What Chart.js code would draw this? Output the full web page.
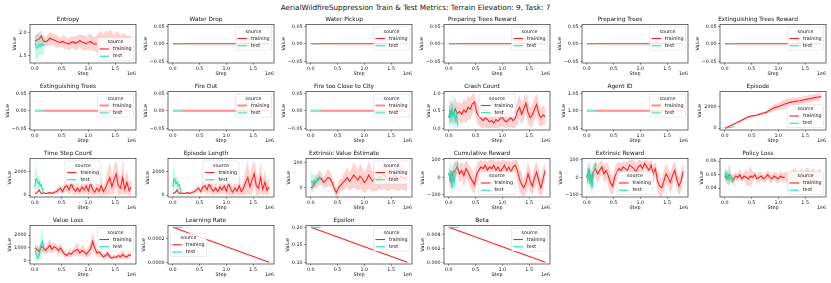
<!DOCTYPE html>
<html>
<head>
<meta charset="utf-8">
<script src="https://cdn.jsdelivr.net/npm/chart.js@4.4.1/dist/chart.umd.min.js"></script>
<style>
  html, body { margin: 0; padding: 0; background: #fff; }
  #fig { position: relative; width: 831px; height: 283px; overflow: hidden; }
  #suptitle { position: absolute; left: 0; top: 3px; width: 831px; text-align: center;
              font: 7.25px "DejaVu Sans"; line-height: 9px; color: #111; }
  .cell { position: absolute; width: 144px; height: 65px; }
</style>
</head>
<body>
<div id="fig">
  <div id="suptitle">AerialWildfireSuppression Train &amp; Test Metrics: Terrain Elevation: 9, Task: 7</div>
</div>
<script>
// ---- sample positions (env steps) ----
const trainSteps = [0, 40e3, 80e3, 120e3, 160e3, 200e3, 240e3, 280e3, 320e3, 360e3,
  400e3, 440e3, 480e3, 520e3, 560e3, 600e3, 640e3, 680e3, 720e3, 760e3,
  800e3, 840e3, 880e3, 920e3, 960e3, 1000e3, 1040e3, 1080e3, 1120e3, 1160e3,
  1200e3, 1240e3, 1280e3, 1320e3, 1360e3, 1400e3, 1440e3, 1480e3, 1520e3, 1560e3,
  1600e3, 1640e3, 1680e3, 1720e3, 1760e3, 1800e3];
const testSteps = [0, 20e3, 40e3, 60e3, 80e3, 100e3, 120e3, 140e3, 160e3, 180e3];
const runSteps = [0, 1800e3];
const testRunSteps = [0, 180e3];

const stepTicks = [0, 0.5e6, 1.0e6, 1.5e6];
const stepTickLabels = ['0.0', '0.5', '1.0', '1.5'];

// ---- metrics ----
const entropyTrain = [1.82, 1.84, 1.86, 1.93, 1.82, 1.80, 1.83, 1.88, 1.86, 1.84,
  1.82, 1.80, 1.79, 1.81, 1.78, 1.77, 1.75, 1.79, 1.80, 1.77,
  1.79, 1.83, 1.80, 1.78, 1.76, 1.79, 1.81, 1.77, 1.75, 1.76,
  1.78, 1.80, 1.75, 1.77, 1.79, 1.76, 1.78, 1.74, 1.77, 1.80,
  1.76, 1.74, 1.78, 1.75, 1.72, 1.74];
const entropyTrainSpread = [0.10, 0.12, 0.15, 0.12, 0.10, 0.10, 0.12, 0.15, 0.13, 0.12,
  0.14, 0.12, 0.10, 0.13, 0.15, 0.12, 0.14, 0.13, 0.12, 0.15,
  0.16, 0.14, 0.15, 0.17, 0.14, 0.16, 0.18, 0.15, 0.14, 0.20,
  0.22, 0.25, 0.20, 0.28, 0.22, 0.30, 0.24, 0.20, 0.26, 0.22,
  0.18, 0.24, 0.20, 0.18, 0.22, 0.20];
const entropyLineEnd = 1.16e6;
const entropyTest = [1.78, 1.72, 1.66, 1.70, 1.74, 1.70, 1.76, 1.72, 1.75, 1.73];
const entropyTestSpread = [0.25, 0.28, 0.30, 0.25, 0.22, 0.20, 0.22, 0.20, 0.18, 0.20];

const zeroTrain = [0, 0];
const zeroTest = [0, 0];
const agentIdTrain = [1, 1];
const agentIdTest = [1, 1];

const crashTrain = [0.30, 0.50, 0.38, 0.55, 0.42, 0.48, 0.40, 0.52, 0.45, 0.60,
  0.55, 0.70, 0.75, 0.45, 0.35, 0.28, 0.22, 0.30, 0.25, 0.18,
  0.22, 0.15, 0.25, 0.20, 0.28, 0.32, 0.22, 0.18, 0.25, 0.30,
  0.22, 0.28, 0.48, 0.60, 0.40, 0.55, 0.72, 0.45, 0.30, 0.38,
  0.55, 0.68, 0.42, 0.30, 0.38, 0.33];
const crashTrainSpread = [0.25, 0.30, 0.28, 0.32, 0.30, 0.28, 0.30, 0.32, 0.30, 0.35,
  0.30, 0.30, 0.25, 0.30, 0.28, 0.25, 0.22, 0.28, 0.25, 0.20,
  0.22, 0.18, 0.25, 0.22, 0.25, 0.28, 0.22, 0.20, 0.22, 0.28,
  0.25, 0.28, 0.35, 0.35, 0.30, 0.32, 0.28, 0.32, 0.28, 0.30,
  0.32, 0.30, 0.32, 0.25, 0.28, 0.25];
const crashTest = [0.30, 0.52, 0.28, 0.58, 0.35, 0.45, 0.22, 0.40, 0.15, 0.08];
const crashTestSpread = [0.30, 0.40, 0.30, 0.40, 0.35, 0.40, 0.30, 0.35, 0.20, 0.10];

const episodeTrain = [0, 90, 180, 270, 360, 450, 540, 640, 740, 840,
  940, 1030, 1080, 1120, 1160, 1200, 1260, 1320, 1380, 1420,
  1520, 1640, 1760, 1860, 1920, 1980, 2050, 2120, 2200, 2280,
  2330, 2380, 2420, 2450, 2480, 2510, 2550, 2590, 2630, 2670,
  2710, 2750, 2790, 2820, 2850, 2880];
const episodeTrainSpread = [0, 10, 20, 30, 40, 50, 50, 60, 60, 70,
  70, 80, 80, 80, 90, 90, 100, 100, 110, 120,
  150, 200, 250, 300, 330, 350, 380, 400, 420, 420,
  400, 380, 370, 360, 350, 340, 330, 330, 330, 330,
  330, 330, 330, 330, 330, 330];
const episodeTest = [0, 15, 30, 50, 65, 80, 95, 110, 130, 150];
const episodeTestSpread = [0, 5, 5, 8, 8, 10, 10, 12, 12, 15];

const timeStepTrain = [150, 200, 450, 150, 200, 150, 180, 220, 150, 250,
  300, 450, 600, 300, 700, 800, 450, 1000, 550, 350,
  600, 300, 700, 450, 800, 350, 1000, 500, 250, 600,
  350, 800, 300, 600, 1100, 1500, 700, 1300, 1800, 800,
  600, 1500, 500, 1100, 400, 700];
const timeStepTrainSpread = [50, 80, 150, 60, 80, 60, 60, 80, 70, 100,
  200, 250, 300, 250, 450, 500, 400, 700, 500, 400,
  450, 350, 500, 450, 600, 400, 900, 600, 350, 500,
  500, 800, 400, 600, 1100, 1300, 900, 1200, 1100, 1000,
  900, 1300, 800, 1000, 700, 700];
const timeStepTest = [700, 1400, 1300, 1000, 1100, 800, 900, 500, 200, 150];
const timeStepTestSpread = [500, 1500, 600, 500, 600, 400, 400, 300, 150, 80];

// episode length reads the same as time step count in the picture
const episodeLengthTrain = timeStepTrain;
const episodeLengthTrainSpread = timeStepTrainSpread;
const episodeLengthTest = timeStepTest;
const episodeLengthTestSpread = timeStepTestSpread;

const extValueTrain = [0, 5, 20, 30, 40, 35, 20, 30, 40, 35,
  20, -5, -20, 0, 10, 20, 30, 40, 25, 35,
  50, 40, 30, 45, 35, 20, 30, 50, 35, 25,
  40, 30, 45, 35, 55, 40, 30, 45, 35, 50,
  40, 30, 45, 35, 40, 30];
const extValueTrainSpread = [10, 15, 20, 25, 30, 25, 20, 30, 35, 30,
  25, 20, 20, 25, 25, 30, 35, 40, 35, 40,
  50, 45, 40, 50, 45, 40, 45, 55, 45, 40,
  50, 45, 50, 45, 55, 50, 45, 50, 45, 55,
  50, 45, 50, 45, 50, 45];
const extValueTest = [20, 25, 15, 30, 25, 20, 35, 30, 40, 30];
const extValueTestSpread = [20, 50, 30, 25, 30, 25, 20, 20, 15, 15];

const cumRewardTrain = [20, -20, 30, 40, 60, 20, 40, 10, 50, 30,
  0, -20, -40, 20, 40, 60, 50, 70, 40, 60,
  50, 70, 40, 60, 30, 50, 70, 40, 60, 30,
  60, 70, 40, -10, -40, -60, -30, 20, -20, -50,
  0, 30, -20, -60, -10, 40];
const cumRewardTrainSpread = [40, 50, 50, 50, 40, 50, 50, 60, 50, 50,
  60, 60, 50, 60, 50, 40, 40, 30, 50, 40,
  50, 30, 50, 40, 60, 50, 30, 50, 40, 60,
  40, 30, 60, 70, 60, 50, 60, 70, 60, 50,
  70, 60, 70, 50, 70, 50];
const cumRewardTest = [30, -10, 40, -60, 10, -30, 40, 50, 70, 80];
const cumRewardTestSpread = [40, 60, 60, 60, 70, 60, 50, 40, 30, 20];

const extRewardTrain = [0, 40, -20, 30, 50, 20, 40, 60, 20, 40,
  10, -30, -50, 0, 30, 50, 40, 60, 50, 40,
  70, 60, 50, 30, 60, 70, 50, 80, 60, 40,
  70, 20, 50, -20, -50, -60, -20, 20, 0, -30,
  10, 40, -10, -50, -20, 35];
const extRewardTrainSpread = [40, 50, 50, 50, 40, 50, 50, 40, 50, 50,
  60, 60, 50, 60, 50, 40, 40, 30, 40, 50,
  30, 40, 50, 50, 40, 30, 40, 20, 40, 50,
  30, 50, 40, 60, 60, 50, 60, 60, 50, 60,
  60, 50, 60, 50, 60, 50];
const extRewardTest = [20, -20, 50, -40, 20, -60, 30, 40, 70, 80];
const extRewardTestSpread = [40, 60, 50, 60, 70, 50, 50, 40, 30, 20];

const policyLossTrain = [0.049, 0.047, 0.050, 0.048, 0.046, 0.049, 0.048, 0.050, 0.047, 0.049,
  0.048, 0.047, 0.049, 0.048, 0.050, 0.047, 0.048, 0.049, 0.047, 0.048,
  0.050, 0.048, 0.047, 0.049, 0.048, 0.047, 0.049, 0.048, 0.048, 0.048,
  0.047, 0.049, 0.048, 0.050, 0.047, 0.048, 0.049, 0.047, 0.050, 0.048,
  0.047, 0.049, 0.048, 0.047, 0.048, 0.049];
const policyLossTrainSpread = [0.003, 0.004, 0.008, 0.003, 0.004, 0.003, 0.003, 0.004, 0.003, 0.003,
  0.006, 0.005, 0.008, 0.004, 0.003, 0.003, 0.004, 0.003, 0.003, 0.004,
  0.003, 0.004, 0.003, 0.003, 0.004, 0.003, 0.004, 0.003, 0.004, 0.004,
  0.005, 0.004, 0.006, 0.005, 0.004, 0.005, 0.006, 0.004, 0.005, 0.007,
  0.005, 0.006, 0.004, 0.005, 0.006, 0.005];
const policyLossLineEnd = 1.12e6;
const policyLossTest = [0.049, 0.052, 0.047, 0.050, 0.046, 0.049, 0.048, 0.045, 0.047, 0.048];
const policyLossTestSpread = [0.004, 0.004, 0.004, 0.004, 0.004, 0.004, 0.003, 0.003, 0.003, 0.003];

const valueLossTrain = [1000, 900, 700, 1100, 1000, 800, 1000, 1200, 900, 1100,
  1000, 800, 1000, 700, 500, 400, 600, 500, 700, 800,
  900, 600, 800, 700, 500, 700, 900, 1500, 1000, 600,
  700, 500, 300, 400, 600, 300, 200, 300, 250, 400,
  300, 500, 350, 300, 450, 400];
const valueLossTrainSpread = [200, 300, 400, 300, 300, 300, 400, 500, 400, 300,
  300, 300, 400, 300, 300, 200, 300, 250, 300, 400,
  500, 300, 400, 400, 300, 400, 500, 700, 500, 300,
  400, 300, 200, 250, 300, 200, 150, 200, 150, 250,
  200, 300, 200, 200, 250, 200];
const valueLossTest = [800, 600, 300, 200, 400, 900, 1300, 1500, 1100, 1200];
const valueLossTestSpread = [800, 600, 400, 200, 400, 700, 1000, 1000, 600, 400];

const learningRateTrain = [0.0003, 0.0];
const learningRateTest = [0.0003, 0.0003];
const epsilonTrain = [0.2, 0.1];
const epsilonTest = [0.2, 0.2];
const betaTrain = [0.005, 0.00001];
const betaTest = [0.005, 0.005];

// ---- y ticks ----
const entropyTicks = [1.5, 2.0];
const entropyTickLabels = ['1.5', '2.0'];
const zeroTicks = [-0.05, 0, 0.05];
const zeroTickLabels = ['\u22120.05', '0.00', '0.05'];
const agentIdTicks = [0.95, 1.0, 1.05];
const agentIdTickLabels = ['0.95', '1.00', '1.05'];
const crashTicks = [0, 0.5, 1.0];
const crashTickLabels = ['0.0', '0.5', '1.0'];
const countTicks = [0, 2000];
const countTickLabels = ['0', '2000'];
const extValueTicks = [0, 100];
const extValueTickLabels = ['0', '100'];
const rewardTicks = [-100, 0, 100];
const rewardTickLabels = ['\u2212100', '0', '100'];
const policyLossTicks = [0.04, 0.05, 0.06];
const policyLossTickLabels = ['0.04', '0.05', '0.06'];
const valueLossTicks = [0, 1000, 2000];
const valueLossTickLabels = ['0', '1000', '2000'];
const learningRateTicks = [0, 0.0002];
const learningRateTickLabels = ['0.0000', '0.0002'];
const epsilonTicks = [0.10, 0.15, 0.20];
const epsilonTickLabels = ['0.10', '0.15', '0.20'];
const betaTicks = [0, 0.002, 0.004];
const betaTickLabels = ['0.000', '0.002', '0.004'];

// ---- panels, row by row ----
function zeroPanel(title, pale) {
  return { title, train: [runSteps, zeroTrain], test: [testRunSteps, zeroTest],
    ticks: [zeroTicks, zeroTickLabels], range: [-0.055, 0.055], legend: 'upper right', pale };
}
const panels = [
  { title: 'Entropy', train: [trainSteps, entropyTrain, entropyTrainSpread], test: [testSteps, entropyTest, entropyTestSpread],
    cut: entropyLineEnd, ticks: [entropyTicks, entropyTickLabels], range: [1.34, 2.18], legend: 'lower right' },
  zeroPanel('Water Drop'),
  zeroPanel('Water Pickup'),
  zeroPanel('Preparing Trees Reward'),
  zeroPanel('Preparing Trees'),
  zeroPanel('Extinguishing Trees Reward'),
  zeroPanel('Extinguishing Trees', true),
  zeroPanel('Fire Out', true),
  zeroPanel('Fire too Close to City', true),
  { title: 'Crash Count', train: [trainSteps, crashTrain, crashTrainSpread], test: [testSteps, crashTest, crashTestSpread],
    floor: 0, ticks: [crashTicks, crashTickLabels], range: [-0.05, 1.05], legend: 'upper center' },
  { title: 'Agent ID', train: [runSteps, agentIdTrain], test: [testRunSteps, agentIdTest],
    ticks: [agentIdTicks, agentIdTickLabels], range: [0.945, 1.055], legend: 'upper right', pale: true },
  { title: 'Episode', train: [trainSteps, episodeTrain, episodeTrainSpread], test: [testSteps, episodeTest, episodeTestSpread],
    ticks: [countTicks, countTickLabels], range: [-170, 3350], legend: 'lower right' },
  { title: 'Time Step Count', train: [trainSteps, timeStepTrain, timeStepTrainSpread], test: [testSteps, timeStepTest, timeStepTestSpread],
    floor: 0, ticks: [countTicks, countTickLabels], range: [-150, 3100], legend: 'upper center' },
  { title: 'Episode Length', train: [trainSteps, episodeLengthTrain, episodeLengthTrainSpread], test: [testSteps, episodeLengthTest, episodeLengthTestSpread],
    floor: 0, ticks: [countTicks, countTickLabels], range: [-150, 3100], legend: 'upper center' },
  { title: 'Extrinsic Value Estimate', train: [trainSteps, extValueTrain, extValueTrainSpread], test: [testSteps, extValueTest, extValueTestSpread],
    ticks: [extValueTicks, extValueTickLabels], range: [-37, 115], legend: 'upper right' },
  { title: 'Cumulative Reward', train: [trainSteps, cumRewardTrain, cumRewardTrainSpread], test: [testSteps, cumRewardTest, cumRewardTestSpread],
    ticks: [rewardTicks, rewardTickLabels], range: [-112, 108], legend: 'lower center' },
  { title: 'Extrinsic Reward', train: [trainSteps, extRewardTrain, extRewardTrainSpread], test: [testSteps, extRewardTest, extRewardTestSpread],
    ticks: [rewardTicks, rewardTickLabels], range: [-112, 108], legend: 'lower center' },
  { title: 'Policy Loss', train: [trainSteps, policyLossTrain, policyLossTrainSpread], test: [testSteps, policyLossTest, policyLossTestSpread],
    cut: policyLossLineEnd, ticks: [policyLossTicks, policyLossTickLabels], range: [0.0335, 0.062], legend: 'lower right' },
  { title: 'Value Loss', train: [trainSteps, valueLossTrain, valueLossTrainSpread], test: [testSteps, valueLossTest, valueLossTestSpread],
    floor: 0, ticks: [valueLossTicks, valueLossTickLabels], range: [-260, 2750], legend: 'upper right' },
  { title: 'Learning Rate', train: [runSteps, learningRateTrain], test: [testRunSteps, learningRateTest],
    ticks: [learningRateTicks, learningRateTickLabels], range: [-0.000015, 0.000315], legend: 'center left' },
  { title: 'Epsilon', train: [runSteps, epsilonTrain], test: [testRunSteps, epsilonTest],
    ticks: [epsilonTicks, epsilonTickLabels], range: [0.095, 0.205], legend: 'upper right' },
  { title: 'Beta', train: [runSteps, betaTrain], test: [testRunSteps, betaTest],
    ticks: [betaTicks, betaTickLabels], range: [-0.00025, 0.00525], legend: 'upper right' },
];

// ---- styling ----
const FONT = 'DejaVu Sans';
const FS = 4.83;        // tick / label / legend size
const TICK = 1.7, TICK_PAD = 1.7;
const INK = '#111';
const SPINE = '#4a4a4a';
const TRAIN = '#ff1f1f', TEST = '#22e0b0';
const TRAIN_PALE = '#f98c8c', TEST_PALE = '#84ead0';
const TRAIN_BAND = 'rgba(255,31,31,0.2)', TEST_BAND = 'rgba(34,224,176,0.25)';

function series(xs, ys, cut) {
  return xs.map((x, i) => ({ x, y: cut !== undefined && x > cut ? null : ys[i] }));
}
function edge(xs, ys, sp, sign, floor) {
  return xs.map((x, i) => {
    let y = ys[i] + sign * sp[i];
    if (floor !== undefined && y < floor) y = floor;
    return { x, y };
  });
}

function buildDatasets(p) {
  const out = [];
  const [tx, ty, ts] = p.train;
  const [ex, ey, es] = p.test;
  const lw = p.pale ? 2 : 1.1;
  if (ts) {
    out.push({ data: edge(tx, ty, ts, 1, p.floor), borderWidth: 0, pointRadius: 0, fill: '+1', backgroundColor: TRAIN_BAND, order: 3 });
    out.push({ data: edge(tx, ty, ts, -1, p.floor), borderWidth: 0, pointRadius: 0, fill: false, order: 3 });
  }
  out.push({ label: 'training', data: series(tx, ty, p.cut), borderColor: p.pale ? TRAIN_PALE : TRAIN,
    borderWidth: lw, pointRadius: 0, fill: false, order: 2 });
  if (es) {
    out.push({ data: edge(ex, ey, es, 1, p.floor), borderWidth: 0, pointRadius: 0, fill: '+1', backgroundColor: TEST_BAND, order: 1 });
    out.push({ data: edge(ex, ey, es, -1, p.floor), borderWidth: 0, pointRadius: 0, fill: false, order: 1 });
  }
  out.push({ label: 'test', data: series(ex, ey), borderColor: p.pale ? TEST_PALE : TEST,
    borderWidth: lw, pointRadius: 0, fill: false, order: 0 });
  return out;
}

function drawLegend(chart, loc) {
  const ctx = chart.ctx, a = chart.chartArea;
  const items = chart.data.datasets.filter(d => d.label);
  ctx.font = FS + 'px "' + FONT + '"';
  const bp = 0.4 * FS, hl = 2 * FS, htp = 0.8 * FS, ls = 0.5 * FS, rh = FS, gap = 0.5 * FS, pad = 0.5 * FS;
  const tw = Math.max(...items.map(d => ctx.measureText(d.label).width));
  const w = 2 * bp + Math.max(ctx.measureText('source').width, hl + htp + tw);
  const h = 2 * bp + rh + gap + items.length * rh + (items.length - 1) * ls;
  const [v, hz] = loc.split(' ');
  const x = hz === 'right' ? a.right - pad - w : hz === 'left' ? a.left + pad : (a.left + a.right - w) / 2;
  const y = v === 'upper' ? a.top + pad : v === 'lower' ? a.bottom - pad - h : (a.top + a.bottom - h) / 2;

  ctx.beginPath();
  ctx.roundRect(x, y, w, h, 1);
  ctx.fillStyle = 'rgba(255,255,255,0.8)';
  ctx.fill();
  ctx.strokeStyle = 'rgba(204,204,204,0.8)';
  ctx.lineWidth = 0.5;
  ctx.stroke();

  ctx.fillStyle = INK;
  ctx.textBaseline = 'middle';
  ctx.textAlign = 'center';
  ctx.fillText('source', x + w / 2, y + bp + rh / 2);
  ctx.textAlign = 'left';
  items.forEach((d, k) => {
    const cy = y + bp + rh + gap + k * (rh + ls) + rh / 2;
    ctx.strokeStyle = d.borderColor;
    ctx.lineWidth = d.borderWidth;
    ctx.beginPath();
    ctx.moveTo(x + bp, cy);
    ctx.lineTo(x + bp + hl, cy);
    ctx.stroke();
    ctx.fillStyle = INK;
    ctx.fillText(d.label, x + bp + hl + htp, cy);
  });
}

// frame, y label, offset text and legend
const panelDecor = {
  id: 'panelDecor',
  afterDraw(chart, args, opts) {
    const ctx = chart.ctx, a = chart.chartArea;
    ctx.save();
    ctx.strokeStyle = SPINE;
    ctx.lineWidth = 0.8;
    ctx.strokeRect(a.left, a.top, a.right - a.left, a.bottom - a.top);

    ctx.fillStyle = INK;
    ctx.font = FS + 'px "' + FONT + '"';
    ctx.textAlign = 'right';
    ctx.textBaseline = 'middle';
    ctx.fillText('1e6', a.right, a.bottom + 11);

    let w = 0;
    chart.scales.y.ticks.forEach(t => { w = Math.max(w, ctx.measureText(String(t.label)).width); });
    ctx.save();
    ctx.translate(a.left - TICK - TICK_PAD - w - 1.9, (a.top + a.bottom) / 2);
    ctx.rotate(-Math.PI / 2);
    ctx.textAlign = 'center';
    ctx.textBaseline = 'bottom';
    ctx.fillText('Value', 0, 0);
    ctx.restore();

    drawLegend(chart, opts.loc);
    ctx.restore();
  }
};

function makeConfig(p) {
  const [yTicks, yLabels] = p.ticks;
  const tickFont = { family: FONT, size: FS };
  const grid = { drawOnChartArea: false, drawTicks: true, tickLength: TICK, tickWidth: 0.7, tickColor: SPINE };
  return {
    type: 'line',
    data: { datasets: buildDatasets(p) },
    plugins: [panelDecor],
    options: {
      responsive: false,
      animation: false,
      events: [],
      layout: { padding: { left: 0, right: 8, top: 0, bottom: 0 } },
      plugins: {
        legend: { display: false },
        tooltip: { enabled: false },
        title: { display: true, text: p.title, color: INK, font: { family: FONT, size: 5.8, weight: 'normal' },
                 padding: { top: 4.02, bottom: 1.52 } },
        panelDecor: { loc: p.legend }
      },
      scales: {
        x: {
          type: 'linear', min: -0.09e6, max: 1.89e6,
          afterBuildTicks: s => { s.ticks = stepTicks.map(v => ({ value: v })); },
          afterFit: s => { s.height = 14; },
          ticks: { autoSkip: false, maxRotation: 0, font: tickFont, color: INK, padding: 1.6,
                   callback: v => stepTickLabels[stepTicks.indexOf(v)] },
          grid, border: { display: false },
          title: { display: true, text: 'Step', color: INK, font: tickFont, padding: 0 }
        },
        y: {
          type: 'linear', min: p.range[0], max: p.range[1],
          afterBuildTicks: s => { s.ticks = yTicks.map(v => ({ value: v })); },
          afterFit: s => { s.width = 30; },
          ticks: { autoSkip: false, font: tickFont, color: INK, padding: TICK_PAD,
                   callback: v => yLabels[yTicks.indexOf(v)] },
          grid, border: { display: false }
        }
      }
    }
  };
}

const fig = document.getElementById('fig');
panels.forEach((p, i) => {
  const r = Math.floor(i / 6), c = i % 6;
  const cell = document.createElement('div');
  cell.className = 'cell';
  cell.style.left = (138 * c) + 'px';
  cell.style.top = (12 + 67 * r) + 'px';
  const cv = document.createElement('canvas');
  cv.width = 144;
  cv.height = 65;
  cell.appendChild(cv);
  fig.appendChild(cell);
  new Chart(cv, makeConfig(p));
});
</script>
</body>
</html>
